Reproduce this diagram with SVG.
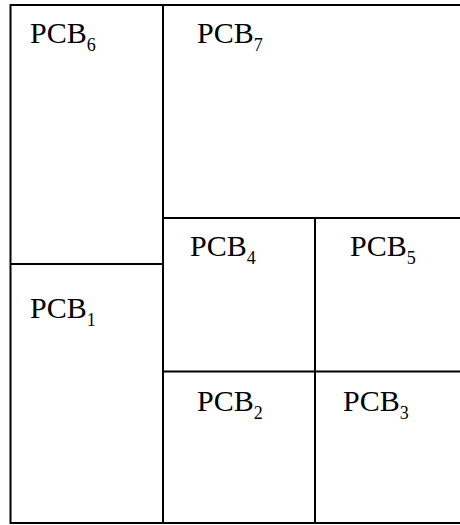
<svg xmlns="http://www.w3.org/2000/svg" width="460" height="525" viewBox="0 0 460 525">
<style>
.ln{stroke:#000;stroke-width:2;fill:none}
.t{font-family:"Liberation Serif","Times New Roman",serif;font-size:30px;fill:#000}
.s{font-size:18px}
</style>
<rect width="460" height="525" fill="#fff"/>
<g id="connectors">
<path class="ln" d="M470,5 H10.5 V523 H470"/>
<path class="ln" d="M163,5 V523"/>
<path class="ln" d="M10.5,264 H163"/>
<path class="ln" d="M163,218 H470"/>
<path class="ln" d="M315,218 V523"/>
<path class="ln" d="M163,371.5 H470"/>
</g>
<g id="pcb6"><text class="t" x="30" y="42.5">PCB<tspan class="s" dy="8">6</tspan></text></g>
<g id="pcb7"><text class="t" x="197" y="42.5">PCB<tspan class="s" dy="8">7</tspan></text></g>
<g id="pcb4"><text class="t" x="190" y="256">PCB<tspan class="s" dy="8">4</tspan></text></g>
<g id="pcb5"><text class="t" x="350" y="256">PCB<tspan class="s" dy="8">5</tspan></text></g>
<g id="pcb1"><text class="t" x="30" y="318">PCB<tspan class="s" dy="8">1</tspan></text></g>
<g id="pcb2"><text class="t" x="197" y="411">PCB<tspan class="s" dy="8">2</tspan></text></g>
<g id="pcb3"><text class="t" x="343" y="411">PCB<tspan class="s" dy="8">3</tspan></text></g>
</svg>
